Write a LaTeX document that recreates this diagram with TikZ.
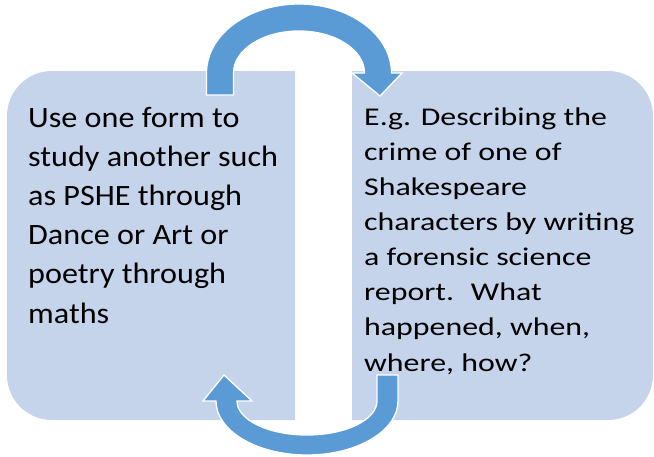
\documentclass[tikz,border=0pt]{standalone}
\usepackage{fontspec}
\setmainfont{Carlito}
\newfontfamily\leftfont[FakeStretch=1.09]{Carlito}
\newfontfamily\rightfont[FakeStretch=1.25]{Carlito}
\definecolor{boxc}{HTML}{C5D4EA}
\definecolor{arrowc}{HTML}{5B9BD5}
\tikzset{
  panel/.style={fill=boxc},
  cyclearrow/.style={fill=arrowc, draw=white, line width=1.3pt, line join=miter},
  bigtext/.style={anchor=base west, inner sep=0pt, align=left, font=\leftfont\fontsize{29.5}{39.2}\selectfont},
  smalltext/.style={anchor=base west, inner sep=0pt, align=left, font=\rightfont\fontsize{25.5}{35.1}\selectfont}
}
\begin{document}
\begin{tikzpicture}[x=1pt,y=-1pt]
\useasboundingbox (0,0) rectangle (654,456);
% left panel (rounded on the left side)
\begin{scope}
  \clip (0,0) rectangle (295,456);
  \fill[panel, rounded corners=45pt] (7,71) rectangle (360,420);
\end{scope}
% right panel (rounded on the right side)
\begin{scope}
  \clip (352,0) rectangle (654,456);
  \fill[panel, rounded corners=45pt] (290,71) rectangle (653,420);
\end{scope}
% texts (anchored at the baseline of their last line)
\node[bigtext] (lefttext) at (28,323) {Use one form to\\study another such\\as PSHE through\\Dance or Art or\\poetry through\\maths};
\node[smalltext] (righttext) at (364,371) {E.g. Describing the\\crime of one of\\Shakespeare\\characters by writing\\a forensic science\\report.~ What\\happened, when,\\where, how?};
% top curved arrow
\draw[cyclearrow] (206.5,95) -- (206.5,73)
  arc[start angle=180, end angle=360, x radius=92.5, y radius=69]
  -- (402,73) -- (380,96) -- (352,73) -- (364.5,73)
  arc[start angle=360, end angle=180, x radius=65.5, y radius=42]
  -- (233.5,95) -- cycle;
% bottom curved arrow
\draw[cyclearrow] (398,375) -- (398,401)
  arc[start angle=0, end angle=180, x radius=91, y radius=54]
  -- (203,401) -- (224,375) -- (252,401) -- (237,401)
  arc[start angle=180, end angle=0, x radius=70, y radius=34]
  -- (377,375) -- cycle;
\end{tikzpicture}
\end{document}
